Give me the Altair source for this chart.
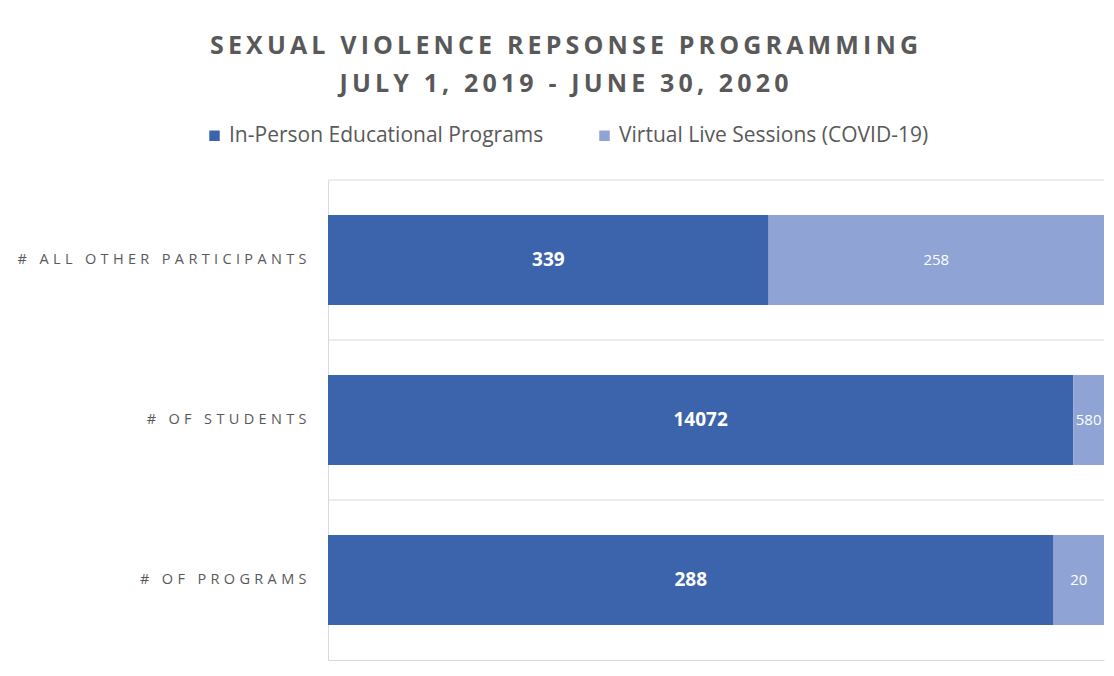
import altair as alt
import pandas as pd

categories = ["# ALL OTHER PARTICIPANTS", "# OF STUDENTS", "# OF PROGRAMS"]
series = ["In-Person Educational Programs", "Virtual Live Sessions (COVID-19)"]
in_person = [339, 14072, 288]
virtual = [258, 580, 20]
colors = ["#3C64AC", "#8FA3D4"]

title_lines = ["SEXUAL VIOLENCE REPSONSE PROGRAMMING", "JULY 1, 2019 - JUNE 30, 2020"]


def spaced(s, sep="\u2009"):
    return sep.join(list(s))


rows = []
for i, c in enumerate(categories):
    rows.append({"category": c, "series": series[0], "value": in_person[i], "ord": 0})
    rows.append({"category": c, "series": series[1], "value": virtual[i], "ord": 1})
df = pd.DataFrame(rows)
grid_df = pd.DataFrame({"category": categories})

FONT = "Open Sans"
GREY = "#595959"
LINE = "#d9d9d9"

yscale = alt.Scale(domain=categories, paddingInner=0, paddingOuter=0)

yenc = alt.Y(
    "category:N",
    sort=categories,
    title=None,
    scale=yscale,
    axis=alt.Axis(
        ticks=False,
        domain=True,
        domainColor=LINE,
        grid=False,
        labelFont=FONT,
        labelFontSize=14.5,
        labelColor=GREY,
        labelPadding=22,
        labelLimit=400,
        labelExpr="replace(datum.label, regexp('(.)(?!$)', 'g'), '$1\u200a\u200a\u200a')",
    ),
)

xscale = alt.Scale(domain=[0, 1], nice=False, zero=True)
xaxis = alt.Axis(labels=False, ticks=False, grid=False, domain=True, domainColor=LINE)

gridlines = alt.Chart(grid_df).mark_rule(color=LINE, strokeWidth=1).encode(
    y=alt.Y("category:N", sort=categories, scale=yscale, bandPosition=0, title=None),
)

base = alt.Chart(df).transform_stack(
    stack="value",
    groupby=["category"],
    as_=["v0", "v1"],
    offset="normalize",
    sort=[alt.SortField("ord", order="ascending")],
).transform_calculate(mid="(datum.v0 + datum.v1) / 2").encode(y=yenc)

bars = base.mark_bar(height=alt.RelativeBandSize(0.5625)).encode(
    x=alt.X("v0:Q", scale=xscale, title=None, axis=xaxis),
    x2="v1:Q",
    color=alt.Color(
        "series:N",
        scale=alt.Scale(domain=series, range=colors),
        legend=alt.Legend(
            title=None,
            orient="none",
            direction="horizontal",
            legendX=-124,
            legendY=-55,
            symbolType="square",
            symbolSize=110,
            symbolStrokeWidth=0,
            labelFont=FONT,
            labelFontSize=21,
            labelColor=GREY,
            columnPadding=50,
            labelLimit=400,
        ),
    ),
)

text_in = base.transform_filter(alt.datum.ord == 0).mark_text(
    font=FONT, fontSize=19, fontWeight="bold", color="white"
).encode(
    x=alt.X("mid:Q", scale=xscale, title=None, axis=xaxis),
    text="value:Q",
)

text_vi = base.transform_filter(alt.datum.ord == 1).mark_text(
    font=FONT, fontSize=15, color="white"
).encode(
    x=alt.X("mid:Q", scale=xscale, title=None, axis=xaxis),
    text="value:Q",
)

chart = alt.layer(gridlines, bars, text_in, text_vi).properties(
    width=776,
    height=480,
    autosize=alt.AutoSizeParams(type="none"),
    padding={"left": 320, "top": 172, "right": 2, "bottom": 8},
    title=alt.TitleParams(
        text=[spaced(t) for t in title_lines],
        font=FONT,
        fontSize=25,
        fontWeight="bold",
        color=GREY,
        anchor="middle",
        frame="group",
        dx=-152,
        offset=28,
        lineHeight=38,
    ),
).configure(background="white").configure_view(stroke=None)

chart.save("out.html", embed_options={"renderer": "svg", "actions": False})
